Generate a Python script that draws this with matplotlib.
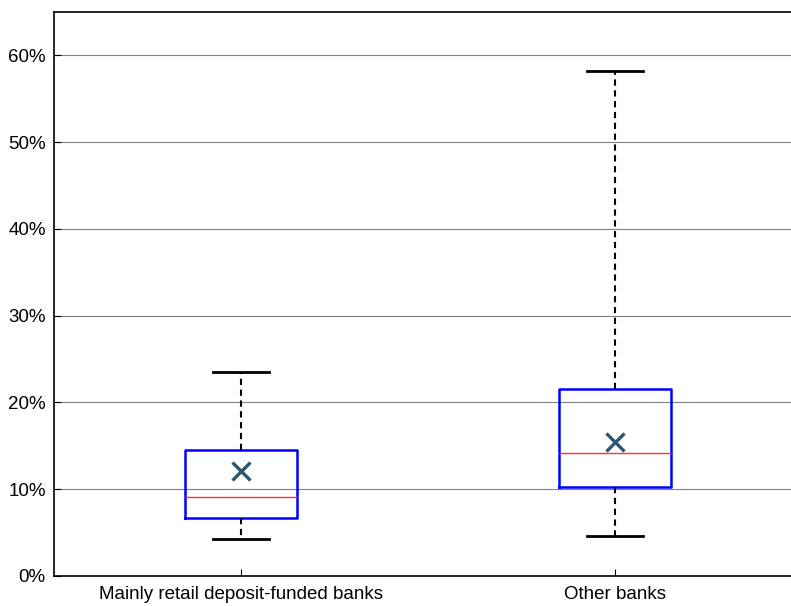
import numpy as np
import matplotlib.pyplot as plt
from matplotlib.ticker import PercentFormatter

plt.rcParams['font.family'] = ['Liberation Sans', 'DejaVu Sans']

# box statistics (fractions)
groups = ['Mainly retail deposit-funded banks', 'Other banks']
q1 = [0.0668, 0.1025]
median = [0.091, 0.142]
q3 = [0.145, 0.215]
whislo = [0.043, 0.046]
whishi = [0.235, 0.582]
mean = [0.121, 0.154]

stats = []
for i in range(len(groups)):
    stats.append(dict(label=groups[i], q1=q1[i], med=median[i], q3=q3[i],
                      whislo=whislo[i], whishi=whishi[i], mean=mean[i], fliers=[]))

fig = plt.figure(figsize=(7.91, 6.06), dpi=100)
# axes runs off the right edge like the original
ax = fig.add_axes([54 / 791, 30 / 606, 748 / 791, 564 / 606])

ax.bxp(stats, positions=[1, 2], widths=0.3, showmeans=True, showfliers=False,
       boxprops=dict(color='#0000ff', linewidth=1.8),
       medianprops=dict(color='#ff3030', linewidth=1.0),
       whiskerprops=dict(color='black', linewidth=1.5, linestyle=(0, (3, 2.2))),
       capprops=dict(color='black', linewidth=2.0),
       meanprops=dict(marker='x', markeredgecolor='#2e5674', markersize=13, markeredgewidth=2.4),
       capwidths=0.15)

ax.set_xlim(0.5, 2.5)
ax.set_ylim(0, 0.65)
ax.set_yticks(np.arange(0, 0.61, 0.1))
ax.yaxis.set_major_formatter(PercentFormatter(1.0, decimals=0))
ax.yaxis.grid(True, color='#808080', linewidth=0.8)
ax.set_axisbelow(True)
ax.tick_params(direction='in', length=5, labelsize=13.5, width=0.8)
ax.tick_params(axis='y', pad=6)
ax.tick_params(axis='x', pad=7)
for s in ax.spines.values():
    s.set_linewidth(1.2)

fig.savefig('out.png', dpi=100)
